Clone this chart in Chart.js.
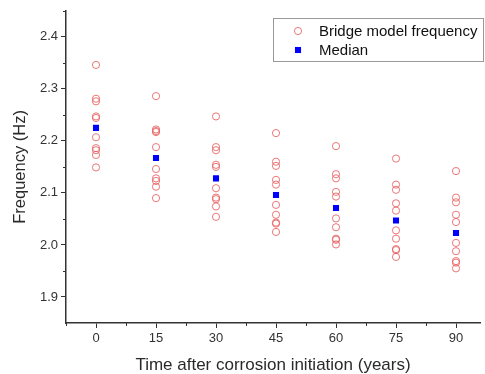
<!DOCTYPE html>
<html>
<head>
<meta charset="utf-8">
<script src="https://cdn.jsdelivr.net/npm/chart.js@4/dist/chart.umd.min.js"></script>
<style>
  html, body { margin: 0; padding: 0; background: #fff; overflow: hidden; }
  #wrap { width: 485px; height: 374px; }
</style>
</head>
<body>
<div id="wrap"><canvas id="freq-chart" width="485" height="374"></canvas></div>
<script>
// years after corrosion initiation
const years = [0, 15, 30, 45, 60, 75, 90];

// bridge model frequencies (Hz), one list per year
const freqAt0 = [2.346, 2.281, 2.276, 2.247, 2.244, 2.207, 2.186, 2.182, 2.173, 2.149];
const freqAt15 = [2.286, 2.222, 2.219, 2.217, 2.188, 2.146, 2.128, 2.123, 2.112, 2.090];
const freqAt30 = [2.247, 2.188, 2.182, 2.154, 2.150, 2.109, 2.091, 2.088, 2.074, 2.054];
const freqAt45 = [2.215, 2.160, 2.152, 2.125, 2.116, 2.077, 2.058, 2.043, 2.041, 2.025];
const freqAt60 = [2.190, 2.136, 2.128, 2.102, 2.093, 2.051, 2.034, 2.012, 2.010, 2.001];
const freqAt75 = [2.166, 2.116, 2.106, 2.080, 2.066, 2.028, 2.012, 1.992, 1.990, 1.977];
const freqAt90 = [2.142, 2.091, 2.082, 2.058, 2.044, 2.004, 1.988, 1.969, 1.966, 1.955];

const medianFreq = [2.225, 2.167, 2.128, 2.096, 2.071, 2.047, 2.023];

const xTicks = [0, 15, 30, 45, 60, 75, 90];
const xMinorTicks = [-7.5, 7.5, 22.5, 37.5, 52.5, 67.5, 82.5];
const yTicks = [1.9, 2.0, 2.1, 2.2, 2.3, 2.4];
const yMinorTicks = [1.95, 2.05, 2.15, 2.25, 2.35, 2.45];

const freqByYear = [freqAt0, freqAt15, freqAt30, freqAt45, freqAt60, freqAt75, freqAt90];

const axisColor = "#333";
const circleColor = "rgba(232, 96, 96, 0.85)";
const medianColor = "#0000ff";
const fontFamily = "'Liberation Sans', Arial, sans-serif";

const modelPoints = years.flatMap((yr, i) => freqByYear[i].map((f) => ({ x: yr, y: f })));
const medianPoints = years.map((yr, i) => ({ x: yr, y: medianFreq[i] }));

// short outward ticks between the labelled ones
const minorTicksPlugin = {
  id: "minorTicks",
  afterDraw(chart) {
    const { ctx, scales } = chart;
    const xs = scales.x;
    const ys = scales.y;
    ctx.save();
    ctx.strokeStyle = axisColor;
    ctx.lineWidth = 1;
    ctx.beginPath();
    xMinorTicks.forEach((v) => {
      const px = Math.round(xs.getPixelForValue(v)) + 0.5;
      ctx.moveTo(px, xs.top);
      ctx.lineTo(px, xs.top + 3);
    });
    yMinorTicks.forEach((v) => {
      const py = Math.round(ys.getPixelForValue(v)) + 0.5;
      ctx.moveTo(ys.right, py);
      ctx.lineTo(ys.right - 3, py);
    });
    ctx.stroke();
    ctx.restore();
  },
};

// boxed legend in the upper right corner
const boxLegendPlugin = {
  id: "boxLegend",
  afterDraw(chart) {
    const { ctx } = chart;
    const sets = chart.data.datasets;
    const box = { left: 273, top: 18, width: 210, height: 43 };
    const markX = 298;
    ctx.save();
    ctx.fillStyle = "#fff";
    ctx.fillRect(box.left, box.top, box.width, box.height);
    ctx.strokeStyle = "#999";
    ctx.lineWidth = 1;
    ctx.strokeRect(box.left + 0.5, box.top + 0.5, box.width, box.height);
    ctx.font = "15px " + fontFamily;
    ctx.textBaseline = "middle";
    sets.forEach((ds, i) => {
      const cy = box.top + 13 + i * 19;
      ctx.save();
      ctx.strokeStyle = ds.borderColor;
      ctx.fillStyle = ds.backgroundColor;
      ctx.lineWidth = ds.borderWidth;
      ctx.beginPath();
      if (ds.pointStyle === "rect") {
        const s = ds.pointRadius * Math.SQRT1_2;
        ctx.fillRect(markX - s, cy - s, 2 * s, 2 * s);
      } else {
        ctx.arc(markX, cy, ds.pointRadius, 0, Math.PI * 2);
        ctx.stroke();
      }
      ctx.restore();
      ctx.fillStyle = "#111";
      ctx.fillText(ds.label, 319, cy + 1);
    });
    ctx.restore();
  },
};

const ctx = document.getElementById("freq-chart").getContext("2d");

new Chart(ctx, {
  type: "scatter",
  data: {
    datasets: [
      {
        label: "Bridge model frequency",
        data: modelPoints,
        pointStyle: "circle",
        pointRadius: 3.6,
        borderWidth: 1,
        borderColor: circleColor,
        backgroundColor: "rgba(0,0,0,0)",
      },
      {
        label: "Median",
        data: medianPoints,
        pointStyle: "rect",
        pointRadius: 4.3,
        borderWidth: 0,
        borderColor: medianColor,
        backgroundColor: medianColor,
      },
    ],
  },
  options: {
    responsive: false,
    animation: false,
    layout: { padding: { top: 9, right: 0, left: 0, bottom: 0 } },
    plugins: {
      legend: { display: false },
      tooltip: { enabled: false },
    },
    scales: {
      x: {
        type: "linear",
        min: -7.5,
        max: 96,
        afterBuildTicks: (scale) => {
          scale.ticks = xTicks.map((v) => ({ value: v }));
        },
        afterFit: (scale) => {
          scale.height = 51;
        },
        ticks: {
          color: axisColor,
          font: { family: fontFamily, size: 13 },
          padding: 3,
          maxRotation: 0,
          autoSkip: false,
        },
        grid: {
          drawOnChartArea: false,
          drawTicks: true,
          tickLength: 5,
          tickColor: axisColor,
        },
        border: { display: true, color: axisColor, width: 1.5 },
        title: {
          display: true,
          text: "Time after corrosion initiation (years)",
          color: "#2a2a2a",
          font: { family: fontFamily, size: 17 },
          padding: { top: 4, bottom: -2 },
        },
      },
      y: {
        type: "linear",
        min: 1.85,
        max: 2.45,
        afterBuildTicks: (scale) => {
          scale.ticks = yTicks.map((v) => ({ value: v }));
        },
        afterFit: (scale) => {
          scale.width = 66;
        },
        ticks: {
          color: axisColor,
          font: { family: fontFamily, size: 13 },
          padding: 3,
          callback: (v) => Number(v).toFixed(1),
        },
        grid: {
          drawOnChartArea: false,
          drawTicks: true,
          tickLength: 5,
          tickColor: axisColor,
        },
        border: { display: true, color: axisColor, width: 1.5 },
        title: {
          display: true,
          text: "Frequency (Hz)",
          color: "#2a2a2a",
          font: { family: fontFamily, size: 16.5 },
          padding: { top: 11, bottom: 4 },
        },
      },
    },
  },
  plugins: [minorTicksPlugin, boxLegendPlugin],
});
</script>
</body>
</html>
